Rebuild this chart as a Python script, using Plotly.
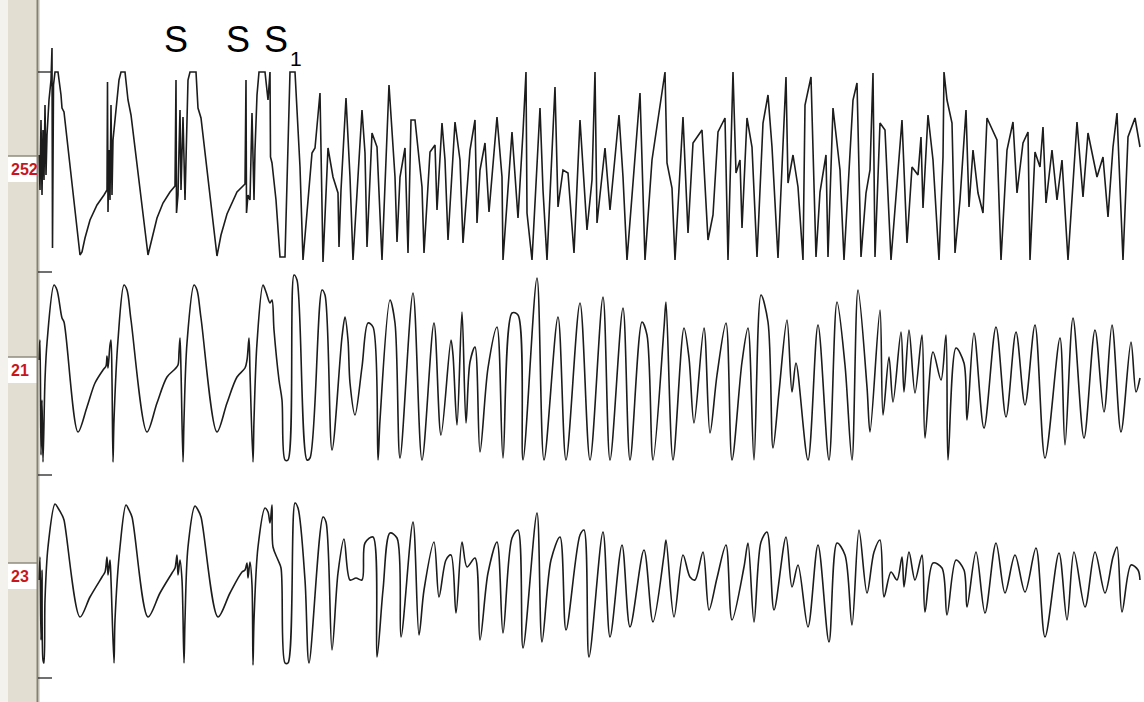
import plotly.graph_objects as go

# Channel labels shown in the left gutter
CHANNEL_LABELS = ["252", "21", "23"]
# Stimulus markers above the top channel
STIM_LABELS = ["S", "S", "S"]

# Waveform readings (time sample, screen-unit deflection) for each channel
TOP_TRACE = [(39,155),(40,190),(41,120),(42,195),(43,130),(44,180),(45,105),(46,175),(47,135),(49,100),(51,80),(52,48),(52.5,248),(53.5,85),(55,72),(58,72),(61,95),(62,108),(64,112),(80,255),(82,252),(85,238),(90,220),(97,205),(104,195),(107,190),(107.5,82),(108,212),(109,150),(110,200),(111,105),(112,195),(113,140),(116,110),(119,80),(121,72),(125,72),(128,100),(131,115),(148,255),(152,238),(157,218),(163,203),(170,192),(175,186),(176,80),(176.5,213),(178,195),(179,150),(180,110),(181,190),(183,117),(185,200),(186,150),(188,80),(190,72),(196,72),(198,108),(201,118),(217,256),(221,235),(227,214),(237,192),(245,184),(246,80),(246.5,213),(248,195),(250,200),(252,113),(254,200),(255,150),(257,95),(259,72),(265,72),(268,100),(270,72),(270.5,157),(272,163),(276,200),(280,257),(285,257),(290,72),(295,72),(300,167),(303,260),(312,153),(315,148),(320,93),(322,193),(323,262),(328,148),(333,177),(338,193),(339,247),(341,190),(346,98),(350,177),(353,260),(362,110),(365,153),(367,247),(372,133),(377,147),(382,260),(389,85),(395,177),(397,242),(400,177),(405,148),(408,253),(411,120),(415,120),(422,187),(424,253),(430,152),(435,145),(437,210),(442,123),(445,160),(448,240),(455,122),(460,160),(463,243),(470,150),(475,120),(477,223),(480,170),(485,143),(489,212),(497,117),(502,177),(503,260),(512,132),(518,218),(523,132),(526,72),(527,213),(532,260),(540,108),(543,190),(547,260),(555,87),(558,207),(563,170),(568,173),(574,253),(580,120),(587,230),(592,180),(595,72),(597,223),(605,148),(610,210),(619,115),(623,177),(627,260),(640,93),(645,260),(652,160),(657,127),(665,72),(667,163),(672,188),(675,260),(683,117),(688,233),(693,143),(702,130),(708,240),(713,215),(718,132),(725,118),(728,260),(733,72),(736,173),(740,160),(742,228),(747,118),(752,147),(757,257),(763,123),(768,95),(772,147),(778,258),(786,77),(788,183),(793,155),(798,187),(803,260),(805,105),(811,77),(816,257),(820,192),(826,155),(828,257),(833,108),(840,170),(844,260),(853,100),(857,83),(861,257),(866,193),(870,170),(873,73),(875,257),(880,123),(885,130),(891,260),(902,120),(907,243),(912,167),(918,175),(921,137),(923,208),(928,115),(933,160),(939,260),(943,157),(944,72),(947,100),(952,123),(955,253),(960,200),(966,110),(969,207),(973,150),(978,193),(983,213),(987,118),(997,140),(1001,260),(1007,150),(1013,122),(1017,193),(1023,143),(1028,132),(1030,260),(1035,152),(1040,167),(1043,127),(1046,203),(1052,150),(1057,200),(1062,160),(1068,260),(1077,122),(1083,197),(1088,133),(1097,177),(1103,157),(1108,217),(1113,147),(1117,113),(1123,260),(1128,137),(1135,118),(1140,147)]

MID_TRACE = [(39,360),(40,340),(41,455),(42,400),(43,462),(45,380),(47,343),(54,285),(57,290),(62,318),(64,322),(78,432),(87,407),(95,383),(103,370),(106,366),(107,356),(108,368),(110,345),(111,340),(112,380),(113,462),(114,420),(118,340),(124,285),(127,290),(131,320),(147,432),(157,403),(167,377),(175,369),(178,365),(179,352),(180,338),(181,370),(183,462),(184,420),(187,343),(194,285),(197,290),(201,318),(217,432),(227,403),(237,377),(245,368),(247,360),(249,338),(250,372),(253,462),(254,420),(257,343),(263,285),(266,292),(270,303),(272,300),(274,330),(279,380),(282,400),(285,460),(288,460),(294,275),(297,280),(307,460),(310,458),(322,290),(325,295),(332,450),(342,337),(345,317),(348,340),(350,383),(355,415),(362,367),(368,323),(373,327),(378,460),(380,420),(390,300),(395,323),(400,458),(413,293),(422,460),(434,323),(441,435),(451,340),(453,355),(457,425),(462,312),(466,423),(470,362),(475,347),(480,452),(488,368),(497,327),(503,458),(512,313),(518,315),(523,460),(537,278),(544,460),(558,317),(566,460),(580,303),(590,460),(603,297),(610,460),(623,308),(630,460),(642,322),(647,335),(653,460),(664,328),(666,302),(673,460),(684,328),(689,358),(694,423),(704,328),(710,433),(717,375),(726,323),(732,460),(742,362),(748,328),(754,460),(761,295),(768,322),(773,448),(779,392),(787,320),(792,392),(796,363),(808,460),(818,325),(829,460),(837,302),(845,365),(852,460),(858,290),(867,387),(870,432),(880,310),(883,415),(889,357),(893,402),(901,332),(904,392),(909,330),(915,393),(922,335),(925,438),(933,352),(941,380),(946,335),(948,460),(956,348),(964,363),(967,420),(974,333),(984,428),(996,327),(1006,417),(1016,332),(1025,405),(1035,325),(1045,458),(1060,338),(1065,445),(1073,318),(1084,438),(1095,330),(1104,412),(1112,325),(1121,432),(1131,342),(1136,392),(1140,378)]

BOT_TRACE = [(39,580),(40,557),(41,640),(42,570),(43,660),(44,663),(45,600),(48,547),(55,504),(58,508),(62,515),(64,520),(80,617),(90,597),(102,577),(105,572),(107,557),(108,575),(110,560),(111,580),(114,663),(115,620),(120,547),(126,505),(129,510),(132,517),(148,617),(160,593),(172,573),(175,568),(177,555),(178,575),(180,560),(182,580),(184,663),(185,620),(188,547),(195,506),(198,510),(201,517),(218,617),(230,593),(242,572),(245,570),(247,563),(248,578),(250,562),(252,585),(253,665),(254,620),(258,547),(265,508),(268,512),(270,523),(272,505),(273,547),(278,560),(281,568),(285,663),(288,663),(295,503),(298,508),(305,580),(309,663),(323,517),(326,522),(332,650),(338,573),(344,539),(350,580),(356,578),(362,580),(365,543),(373,537),(377,657),(383,590),(390,533),(397,538),(401,637),(413,522),(419,635),(424,590),(434,542),(439,597),(446,560),(451,555),(456,613),(462,542),(467,567),(475,558),(480,640),(488,573),(497,542),(503,633),(512,538),(518,530),(523,648),(537,513),(542,642),(551,560),(560,537),(566,630),(580,535),(584,530),(589,657),(603,532),(610,637),(622,545),(630,627),(644,550),(653,622),(664,555),(666,540),(674,617),(683,555),(690,577),(695,580),(703,552),(709,610),(717,578),(726,545),(732,620),(744,567),(748,543),(754,622),(761,542),(767,532),(774,610),(786,537),(792,587),(798,565),(808,627),(818,545),(829,642),(837,543),(845,555),(852,625),(859,530),(867,593),(874,552),(880,540),(884,597),(891,572),(897,580),(902,557),(904,587),(909,552),(915,580),(922,555),(925,612),(933,563),(942,568),(947,615),(956,560),(964,570),(967,607),(976,552),(985,613),(996,543),(1005,593),(1015,555),(1025,592),(1036,548),(1045,637),(1059,553),(1067,620),(1074,552),(1085,607),(1095,552),(1105,593),(1113,557),(1117,547),(1122,612),(1131,565),(1138,570),(1140,580)]

W, H = 1144, 702
LINE_COLOR = "#1c1c1c"

fig = go.Figure()

for trace, shape, smooth in [(TOP_TRACE, "linear", None), (MID_TRACE, "spline", 0.9), (BOT_TRACE, "spline", 0.9)]:
    xs = [p[0] for p in trace]
    ys = [p[1] for p in trace]
    line = dict(color=LINE_COLOR, width=1.6, shape=shape)
    if smooth is not None:
        line["smoothing"] = smooth
    fig.add_trace(go.Scatter(x=xs, y=ys, mode="lines", line=line, hoverinfo="skip", showlegend=False))

shapes = []
# left gutter panel
shapes.append(dict(type="rect", xref="x", yref="y", x0=0, x1=8, y0=0, y1=H, fillcolor="#f4f2ec", line_width=0, layer="below"))
shapes.append(dict(type="rect", xref="x", yref="y", x0=8, x1=37, y0=0, y1=H, fillcolor="#e3ded2", line_width=0, layer="below"))
shapes.append(dict(type="line", xref="x", yref="y", x0=37.5, x1=37.5, y0=0, y1=H, line=dict(color="#858172", width=2), layer="above"))
shapes.append(dict(type="line", xref="x", yref="y", x0=39.2, x1=39.2, y0=0, y1=H, line=dict(color="#cfcbbf", width=1), layer="below"))

# channel label boxes
label_boxes = [(156, 182, 169), (357, 383, 370), (563, 589, 576)]
for (y0, y1, yc) in label_boxes:
    shapes.append(dict(type="rect", xref="x", yref="y", x0=8, x1=37, y0=y0, y1=y1, fillcolor="#ffffff", line_width=0, layer="below"))
    shapes.append(dict(type="line", xref="x", yref="y", x0=8, x1=37, y0=y0, y1=y0, line=dict(color="#8f8b7e", width=1.5), layer="below"))

# axis tick marks
for ty in [72, 272, 475, 678]:
    shapes.append(dict(type="line", xref="x", yref="y", x0=38, x1=52, y0=ty, y1=ty, line=dict(color="#222222", width=1.3)))

annotations = []
for lab, (y0, y1, yc) in zip(CHANNEL_LABELS, label_boxes):
    annotations.append(dict(x=9, y=yc, xref="x", yref="y", text="<b>%s</b>" % lab, showarrow=False,
                            xanchor="left", yanchor="middle",
                            font=dict(family="Liberation Sans, Arial", size=16, color="#c8161e")))

stim_x = [176, 238, 276]
for i, (lab, sx) in enumerate(zip(STIM_LABELS, stim_x)):
    annotations.append(dict(x=sx, y=39, xref="x", yref="y", text=lab, showarrow=False,
                            xanchor="center", yanchor="middle",
                            font=dict(family="Liberation Sans, Arial", size=36, color="#000000")))
annotations.append(dict(x=296, y=58, xref="x", yref="y", text="1", showarrow=False,
                        xanchor="center", yanchor="middle",
                        font=dict(family="Liberation Sans, Arial", size=21, color="#000000")))

fig.update_layout(
    width=W, height=H,
    margin=dict(l=0, r=0, t=0, b=0),
    paper_bgcolor="white", plot_bgcolor="white",
    xaxis=dict(range=[0, W], visible=False, fixedrange=True),
    yaxis=dict(range=[H, 0], visible=False, fixedrange=True),
    shapes=shapes, annotations=annotations,
    showlegend=False,
)

fig.write_html("out.html", config={"displayModeBar": False})
